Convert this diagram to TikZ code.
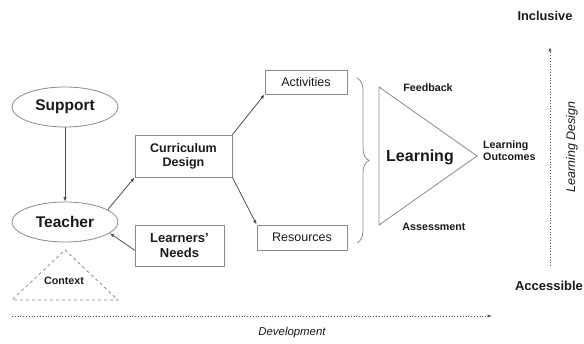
\documentclass[tikz,border=0pt]{standalone}
\usepackage{fontspec}
\setmainfont{Liberation Sans}
\usetikzlibrary{shapes.geometric,arrows.meta,decorations.pathreplacing}
\definecolor{edge}{HTML}{8A8A8A}
\definecolor{arrowc}{HTML}{505050}
\definecolor{txt}{HTML}{1A1A1A}
\begin{document}
\begin{tikzpicture}[x=1pt,y=-1pt,
  oval/.style={ellipse,draw=edge,line width=0.8pt,minimum width=106pt,minimum height=40pt,inner sep=0pt,font=\fontsize{15.5}{17}\selectfont\bfseries,text=txt},
  boxb/.style={rectangle,draw=edge,line width=0.8pt,inner sep=0pt,align=center,font=\fontsize{12.5}{14}\selectfont\bfseries,text=txt},
  boxr/.style={rectangle,draw=edge,line width=0.8pt,inner sep=0pt,align=center,font=\fontsize{12.5}{14}\selectfont,text=txt},
  lab/.style={inner sep=0pt,align=left,font=\fontsize{10.7}{12}\selectfont\bfseries,text=txt},
  arr/.style={draw=arrowc,line width=0.8pt,-{Latex[length=4.5pt,width=3.5pt]}},
  dotarr/.style={draw=arrowc,line width=0.8pt,dotted,-{Latex[length=4.5pt,width=3.5pt]}}
]
\useasboundingbox (0,0) rectangle (584,344);
% nodes
\node[oval] (sup) at (65,107) {Support};
\node[oval] (tea) at (65,222) {Teacher};
\node[boxb,minimum width=97pt,minimum height=42pt] (cd) at (183.5,156) {Curriculum\\Design};
\node[boxb,minimum width=89pt,minimum height=41pt,font=\fontsize{13}{15}\selectfont\bfseries] (ln) at (179.5,245.5) {Learners'\\Needs};
\node[boxr,minimum width=82pt,minimum height=24pt] (act) at (306,82) {Activities};
\node[boxr,minimum width=90pt,minimum height=25pt] (res) at (302,237.5) {Resources};
% context triangle
\draw[edge,line width=0.8pt,dashed] (65,250) -- (118,300) -- (12,300) -- cycle;
\node[lab] (ctx) at (64,281) {Context};
% connectors
\draw[arr] (sup.south) -- (tea.north);
\draw[arr] (tea.16) -- (cd.south west);
\draw[arr] (ln.186) -- (tea.-14);
\draw[arr] (cd.north east) -- (act.south west);
\draw[arr] (cd.south east) -- (res.north west);
% brace
\draw[edge,line width=0.8pt,decorate,decoration={brace,amplitude=12pt}] (357,78) -- (357,243);
% learning triangle
\coordinate (lt1) at (379,87);
\coordinate (lt2) at (379,225);
\coordinate (lt3) at (477,156);
\draw[edge,line width=0.8pt] (lt1) -- (lt2) -- (lt3) -- cycle;
\node[inner sep=0pt,font=\fontsize{16}{18}\selectfont\bfseries,text=txt] (learn) at (420,157) {Learning};
\node[lab] (fb) at (428,88) {Feedback};
\node[lab] (as) at (434,227) {Assessment};
\node[lab,anchor=west] (lo) at (483,151) {Learning\\Outcomes};
% axes
\node[inner sep=0pt,font=\fontsize{12.8}{14}\selectfont\bfseries,text=txt] (inc) at (545,16) {Inclusive};
\node[inner sep=0pt,font=\fontsize{13}{15}\selectfont\bfseries,text=txt] (acc) at (549,286) {Accessible};
\coordinate (vb) at (550,266);
\coordinate (vt) at (550,47);
\draw[dotarr] (vb) -- (vt);
\node[inner sep=0pt,rotate=90,font=\fontsize{12.5}{14}\selectfont\itshape,text=txt] (ld) at (572,147) {Learning Design};
\coordinate (hl) at (12,316);
\coordinate (hr) at (492,316);
\draw[dotarr] (hl) -- (hr);
\node[inner sep=0pt,font=\fontsize{11.4}{13}\selectfont\itshape,text=txt] (dev) at (292,333) {Development};
\end{tikzpicture}
\end{document}
